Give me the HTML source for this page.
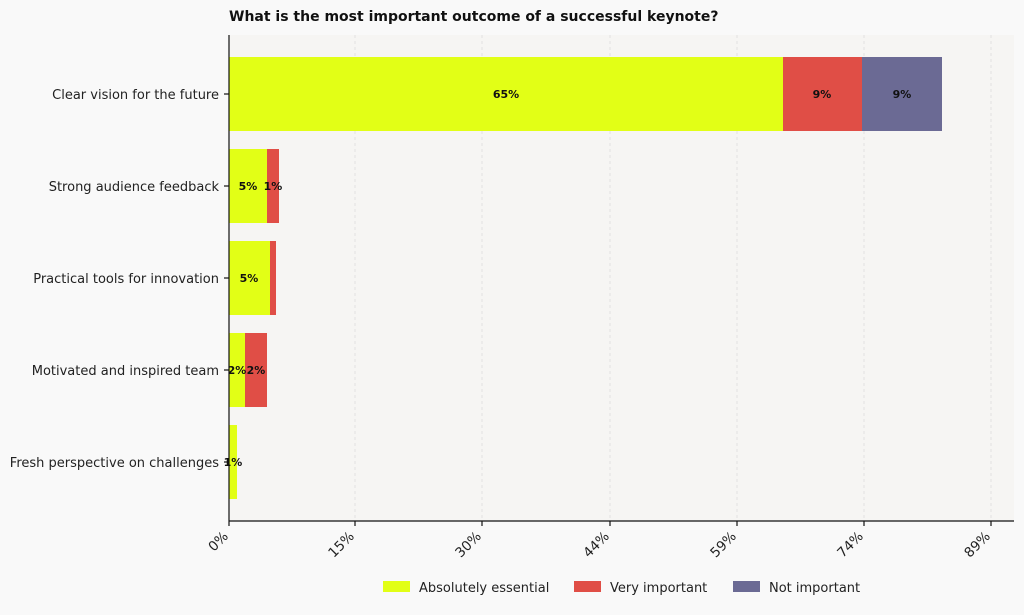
<!DOCTYPE html><html><head><style>body{margin:0;background:#f9f9f9}</style></head><body>
<svg width="1024" height="610" xmlns="http://www.w3.org/2000/svg" font-family="DejaVu Sans, Liberation Sans, sans-serif">
<rect width="1024" height="610" fill="#f9f9f9"/>
<rect x="229" y="35" width="785" height="486" fill="#f6f5f3"/>
<g stroke="#ddd" stroke-dasharray="3,3" stroke-width="0.8">
<line x1="355" y1="35" x2="355" y2="521"/><line x1="482" y1="35" x2="482" y2="521"/><line x1="610" y1="35" x2="610" y2="521"/><line x1="737" y1="35" x2="737" y2="521"/><line x1="864" y1="35" x2="864" y2="521"/><line x1="991" y1="35" x2="991" y2="521"/>
</g>
<text x="229" y="21" font-size="14" font-weight="bold" fill="#111">What is the most important outcome of a successful keynote?</text>
<g>
<rect x="229" y="57" width="554" height="74" fill="#e2ff16"/><rect x="783" y="57" width="79" height="74" fill="#e04e46"/><rect x="862" y="57" width="80" height="74" fill="#6b6a94"/>
<rect x="229" y="149" width="38" height="74" fill="#e2ff16"/><rect x="267" y="149" width="12" height="74" fill="#e04e46"/>
<rect x="229" y="241" width="41" height="74" fill="#e2ff16"/><rect x="270" y="241" width="6" height="74" fill="#e04e46"/>
<rect x="229" y="333" width="16" height="74" fill="#e2ff16"/><rect x="245" y="333" width="22" height="74" fill="#e04e46"/>
<rect x="229" y="425" width="8" height="74" fill="#e2ff16"/>
</g>
<g font-size="11" font-weight="bold" text-anchor="middle" fill="#111">
<text x="506" y="98">65%</text><text x="822" y="98">9%</text><text x="902" y="98">9%</text>
<text x="248" y="190">5%</text><text x="273" y="190">1%</text>
<text x="249" y="282">5%</text>
<text x="237" y="374">2%</text><text x="256" y="374">2%</text>
<text x="233" y="466">1%</text>
</g>
<g stroke="#111" stroke-width="1.2"><line x1="229" y1="35" x2="229" y2="521"/><line x1="229" y1="521" x2="1014" y2="521"/>
<line x1="224" y1="94" x2="229" y2="94"/><line x1="224" y1="186" x2="229" y2="186"/><line x1="224" y1="278" x2="229" y2="278"/><line x1="224" y1="370" x2="229" y2="370"/><line x1="224" y1="462" x2="229" y2="462"/>
<line x1="229" y1="521" x2="229" y2="526"/><line x1="355" y1="521" x2="355" y2="526"/><line x1="482" y1="521" x2="482" y2="526"/><line x1="610" y1="521" x2="610" y2="526"/><line x1="737" y1="521" x2="737" y2="526"/><line x1="864" y1="521" x2="864" y2="526"/><line x1="991" y1="521" x2="991" y2="526"/></g>
<g font-size="13" text-anchor="end" fill="#222">
<text x="219" y="99">Clear vision for the future</text>
<text x="219" y="191">Strong audience feedback</text>
<text x="219" y="283">Practical tools for innovation</text>
<text x="219" y="375">Motivated and inspired team</text>
<text x="219" y="467">Fresh perspective on challenges</text>
</g>
<g font-size="13.5" text-anchor="end" fill="#222">
<text transform="translate(229,537) rotate(-45)">0%</text>
<text transform="translate(355,537) rotate(-45)">15%</text>
<text transform="translate(482,537) rotate(-45)">30%</text>
<text transform="translate(610,537) rotate(-45)">44%</text>
<text transform="translate(737,537) rotate(-45)">59%</text>
<text transform="translate(864,537) rotate(-45)">74%</text>
<text transform="translate(991,537) rotate(-45)">89%</text>
</g>
<g font-size="13" fill="#222">
<rect x="383" y="581" width="27" height="11" fill="#e2ff16"/><text x="419" y="592">Absolutely essential</text>
<rect x="574" y="581" width="27" height="11" fill="#e04e46"/><text x="610" y="592">Very important</text>
<rect x="733" y="581" width="27" height="11" fill="#6b6a94"/><text x="769" y="592">Not important</text>
</g>
</svg></body></html>
